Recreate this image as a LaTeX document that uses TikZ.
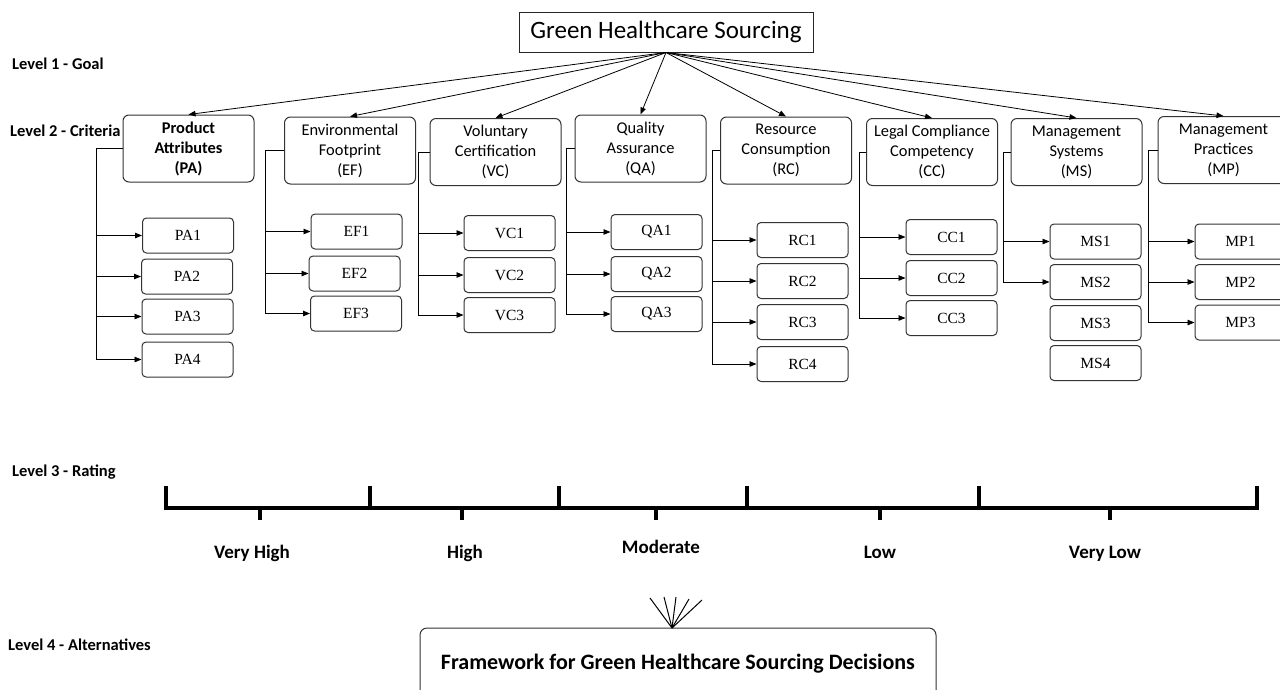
\documentclass[tikz,border=0pt]{standalone}
\usepackage{fontspec}
\setmainfont{Carlito}
\newfontfamily\serifbox{Liberation Serif}
\usetikzlibrary{arrows.meta}
\begin{document}
\begin{tikzpicture}[x=1pt,y=-1pt,
  goalbox/.style={draw=black!85,line width=1pt,minimum width=294pt,minimum height=40pt,inner sep=0pt,font=\fontsize{25}{28}\selectfont},
  critbox/.style={draw=black!80,line width=1pt,rounded corners=6pt,minimum width=131pt,minimum height=67pt,inner sep=0pt,align=center,font=\fontsize{16.4}{20}\selectfont},
  subbox/.style={draw=black!80,line width=1pt,rounded corners=4pt,minimum width=91pt,minimum height=35pt,inner sep=0pt,font=\serifbox\fontsize{15.5}{18}\selectfont},
  lvl/.style={anchor=west,inner sep=0pt,font=\bfseries\fontsize{16.5}{18}\selectfont},
  rate/.style={inner sep=0pt,font=\bfseries\fontsize{19}{21}\selectfont},
  arr/.style={-{Triangle[length=7pt,width=5.5pt]},line width=0.8pt},
  conn/.style={line width=0.8pt},
  scaleline/.style={line width=3.5pt},
  fan/.style={line width=1pt}]
\clip (0,0) rectangle (1280,689);
\fill[white] (0,0) rectangle (1280,689);

% goal
\node[goalbox] (goal) at (666,32) {Green Healthcare Sourcing};

% level labels
\node[lvl] (l1) at (12,64) {Level 1 - Goal};
\node[lvl] (l2) at (10,131) {Level 2 - Criteria};
\node[lvl] (l3) at (12,472) {Level 3 - Rating};
\node[lvl] (l4) at (8,645) {Level 4 - Alternatives};

% criteria
\node[critbox,font=\bfseries\fontsize{16.4}{20}\selectfont] (pa) at (188.5,148.5) {Product\\Attributes\\(PA)};
\node[critbox] (ef) at (350,150.5) {Environmental\\Footprint\\(EF)};
\node[critbox] (vc) at (495.5,152) {Voluntary\\Certification\\(VC)};
\node[critbox] (qa) at (640.5,148.5) {Quality\\Assurance\\(QA)};
\node[critbox] (rc) at (786,150.5) {Resource\\Consumption\\(RC)};
\node[critbox] (cc) at (932,152) {Legal Compliance\\Competency\\(CC)};
\node[critbox] (ms) at (1076.5,152) {Management\\Systems\\(MS)};
\node[critbox] (mp) at (1223.5,150) {Management\\Practices\\(MP)};

\foreach \c in {pa,ef,vc,qa,rc,cc,ms,mp}
  \draw[arr] (goal.south) -- (\c.north);

% sub-criteria
\node[subbox] (pa1) at (188,235.5) {PA1};
\node[subbox] (pa2) at (187,276.5) {PA2};
\node[subbox] (pa3) at (187.5,316.5) {PA3};
\node[subbox] (pa4) at (187.5,359.5) {PA4};

\node[subbox] (ef1) at (356.5,231.5) {EF1};
\node[subbox] (ef2) at (354.5,273.5) {EF2};
\node[subbox] (ef3) at (356,313.5) {EF3};

\node[subbox] (vc1) at (509.5,233) {VC1};
\node[subbox] (vc2) at (509.5,275) {VC2};
\node[subbox] (vc3) at (509.5,315) {VC3};

\node[subbox] (qa1) at (656.5,232) {QA1};
\node[subbox] (qa2) at (656.5,274) {QA2};
\node[subbox] (qa3) at (656.5,314) {QA3};

\node[subbox] (rc1) at (802.5,240) {RC1};
\node[subbox] (rc2) at (802.5,281) {RC2};
\node[subbox] (rc3) at (802.5,322) {RC3};
\node[subbox] (rc4) at (802.5,364) {RC4};

\node[subbox] (cc1) at (951.5,237) {CC1};
\node[subbox] (cc2) at (951.5,278) {CC2};
\node[subbox] (cc3) at (951.5,318) {CC3};

\node[subbox] (ms1) at (1095.5,241.5) {MS1};
\node[subbox] (ms2) at (1095.5,282) {MS2};
\node[subbox] (ms3) at (1095.5,323) {MS3};
\node[subbox] (ms4) at (1095.5,363) {MS4};

\node[subbox] (mp1) at (1240.5,241.5) {MP1};
\node[subbox] (mp2) at (1240.5,282) {MP2};
\node[subbox] (mp3) at (1240.5,322.5) {MP3};

% spines
\coordinate (pas) at (96,148.5);
\coordinate (efs) at (265,150.5);
\coordinate (vcs) at (418,152);
\coordinate (qas) at (566,148.5);
\coordinate (rcs) at (712,150.5);
\coordinate (ccs) at (859,152);
\coordinate (mss) at (1003,152);
\coordinate (mps) at (1148,150);

\draw[conn] (pa.west) -- (pas);
\foreach \s in {pa1,pa2,pa3,pa4} \draw[arr] (pas) |- (\s.west);
\draw[conn] (ef.west) -- (efs);
\foreach \s in {ef1,ef2,ef3} \draw[arr] (efs) |- (\s.west);
\draw[conn] (vc.west) -- (vcs);
\foreach \s in {vc1,vc2,vc3} \draw[arr] (vcs) |- (\s.west);
\draw[conn] (qa.west) -- (qas);
\foreach \s in {qa1,qa2,qa3} \draw[arr] (qas) |- (\s.west);
\draw[conn] (rc.west) -- (rcs);
\foreach \s in {rc1,rc2,rc3,rc4} \draw[arr] (rcs) |- (\s.west);
\draw[conn] (cc.west) -- (ccs);
\foreach \s in {cc1,cc2,cc3} \draw[arr] (ccs) |- (\s.west);
\draw[conn] (ms.west) -- (mss);
\foreach \s in {ms1,ms2} \draw[arr] (mss) |- (\s.west);
\draw[conn] (mp.west) -- (mps);
\foreach \s in {mp1,mp2,mp3} \draw[arr] (mps) |- (\s.west);

% rating scale
\draw[scaleline] (166,486) -- (166,508) -- (1257,508) -- (1257,486);
\foreach \x in {370,559,747,979} \draw[scaleline] (\x,486) -- (\x,508);
\foreach \x in {260,462,656,880,1110} \draw[scaleline] (\x,508) -- (\x,520);

\node[rate] (vh) at (252,553) {Very High};
\node[rate] (hi) at (465,553) {High};
\node[rate] (mo) at (661,547) {Moderate};
\node[rate] (lo) at (880,552) {Low};
\node[rate] (vl) at (1105,554) {Very Low};

% alternatives
\node[draw=black!80,line width=1pt,rounded corners=7pt,minimum width=516pt,minimum height=72pt,inner sep=0pt,font=\bfseries\fontsize{22}{26}\selectfont] (fw) at (678,664) {Framework for Green Healthcare Sourcing Decisions};
\coordinate (fp) at (672,628);
\foreach \dx/\dy in {-22/-30,-8/-31,4/-31,17/-29,30/-28}
  \draw[fan] (fp) -- ++(\dx,\dy);
\end{tikzpicture}
\end{document}
